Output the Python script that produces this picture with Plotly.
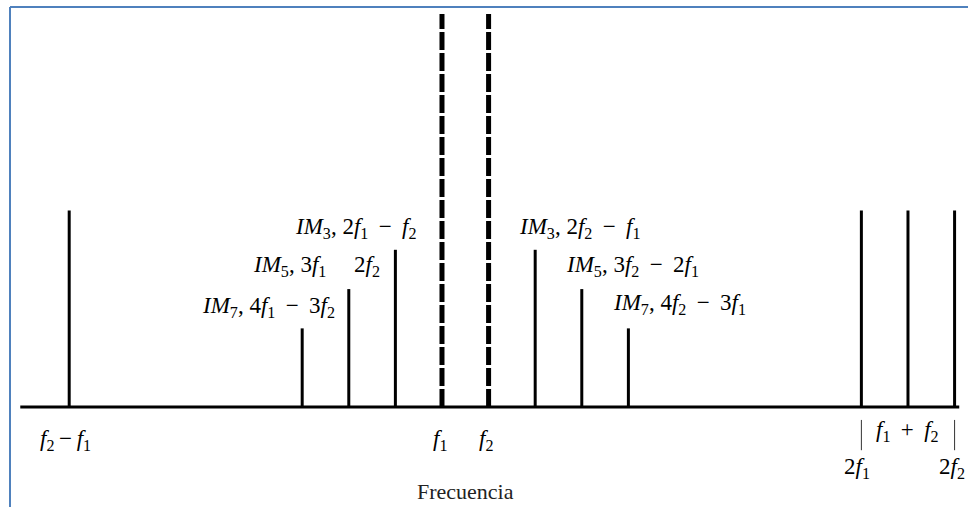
import plotly.graph_objects as go

# schematic frequency positions (f1 = 10, f2 = 11 units)
carrier_x = [10, 11]
carrier_h = [10, 10]

stem_x = [2, 7, 8, 9, 12, 13, 14, 19, 20, 21]
stem_h = [5, 2, 3, 4, 4, 3, 2, 5, 5, 5]

axis_span = [0.95, 21.1]

SERIF = "Liberation Serif"
SP = "\u2009"  # thin space, for math-like spacing


def f(n):
    return f"<i>f</i><sub>{n}</sub>"


def im(n):
    return f"<i>IM</i><sub>{n}</sub>"


def op(sym="\u2212"):
    return f" {SP}{sym}{SP} "


labels = [
    # text, x, y, xanchor
    (f"{im(3)}, 2{f(1)}{op()}{f(2)}", 9.48, 4.55, "right"),
    (f"{im(5)}, 3{f(1)}", 7.55, 3.6, "right"),
    (f"2{f(2)}", 8.39, 3.6, "center"),
    (f"{im(7)}, 4{f(1)}{op()}3{f(2)}", 7.75, 2.55, "right"),
    (f"{im(3)}, 2{f(2)}{op()}{f(1)}", 11.6, 4.55, "left"),
    (f"{im(5)}, 3{f(2)}{op()}2{f(1)}", 12.62, 3.6, "left"),
    (f"{im(7)}, 4{f(2)}{op()}3{f(1)}", 13.63, 2.62, "left"),
    (f"{f(2)}{SP}\u2212{SP}{f(1)}", 1.91, -0.85, "center"),
    (f(1), 9.95, -0.85, "center"),
    (f(2), 10.95, -0.85, "center"),
    (f"{f(1)}{op('+')}{f(2)}", 20.0, -0.6, "center"),
    (f"2{f(1)}", 18.9, -1.55, "center"),
    (f"2{f(2)}", 20.95, -1.55, "center"),
]

fig = go.Figure()

# baseline
fig.add_trace(go.Scatter(x=axis_span, y=[0, 0], mode="lines",
                         line=dict(color="black", width=3), hoverinfo="skip"))

# solid stems
sx, sy = [], []
for x, h in zip(stem_x, stem_h):
    sx += [x, x, None]
    sy += [0, h, None]
fig.add_trace(go.Scatter(x=sx, y=sy, mode="lines",
                         line=dict(color="black", width=3), hoverinfo="skip"))

# carriers (dashed)
cx, cy = [], []
for x, h in zip(carrier_x, carrier_h):
    cx += [x, x, None]
    cy += [0, h, None]
fig.add_trace(go.Scatter(x=cx, y=cy, mode="lines",
                         line=dict(color="black", width=5, dash="18px,3px"),
                         hoverinfo="skip"))

# thin bracket marks under 2f1 and 2f2
bx, by = [], []
for x in [19, 21]:
    bx += [x, x, None]
    by += [-0.33, -1.1, None]
fig.add_trace(go.Scatter(x=bx, y=by, mode="lines",
                         line=dict(color="#333", width=1), hoverinfo="skip"))

for text, x, y, xa in labels:
    fig.add_annotation(x=x, y=y, text=text, showarrow=False, xanchor=xa,
                       yanchor="middle", font=dict(family=SERIF, size=23, color="black"))

fig.add_annotation(x=10.5, y=-2.15, text="Frecuencia", showarrow=False,
                   font=dict(family=SERIF, size=22, color="#222"))

# blue frame (top and left)
fig.add_shape(type="line", xref="paper", yref="paper", x0=10 / 968, x1=1,
              y0=1 - 7 / 507, y1=1 - 7 / 507, line=dict(color="#4f81bd", width=2))
fig.add_shape(type="line", xref="paper", yref="paper", x0=10 / 968, x1=10 / 968,
              y0=0, y1=1 - 7 / 507, line=dict(color="#4f81bd", width=2))

fig.update_layout(
    width=968, height=507,
    margin=dict(l=0, r=0, t=0, b=0),
    paper_bgcolor="white", plot_bgcolor="white",
    showlegend=False,
    xaxis=dict(range=[0.515, 21.288], visible=False, fixedrange=True),
    yaxis=dict(range=[-2.545, 10.356], visible=False, fixedrange=True),
)

fig.write_html("out.html", config={"displayModeBar": False},
               post_script="document.body.style.margin='0';")
